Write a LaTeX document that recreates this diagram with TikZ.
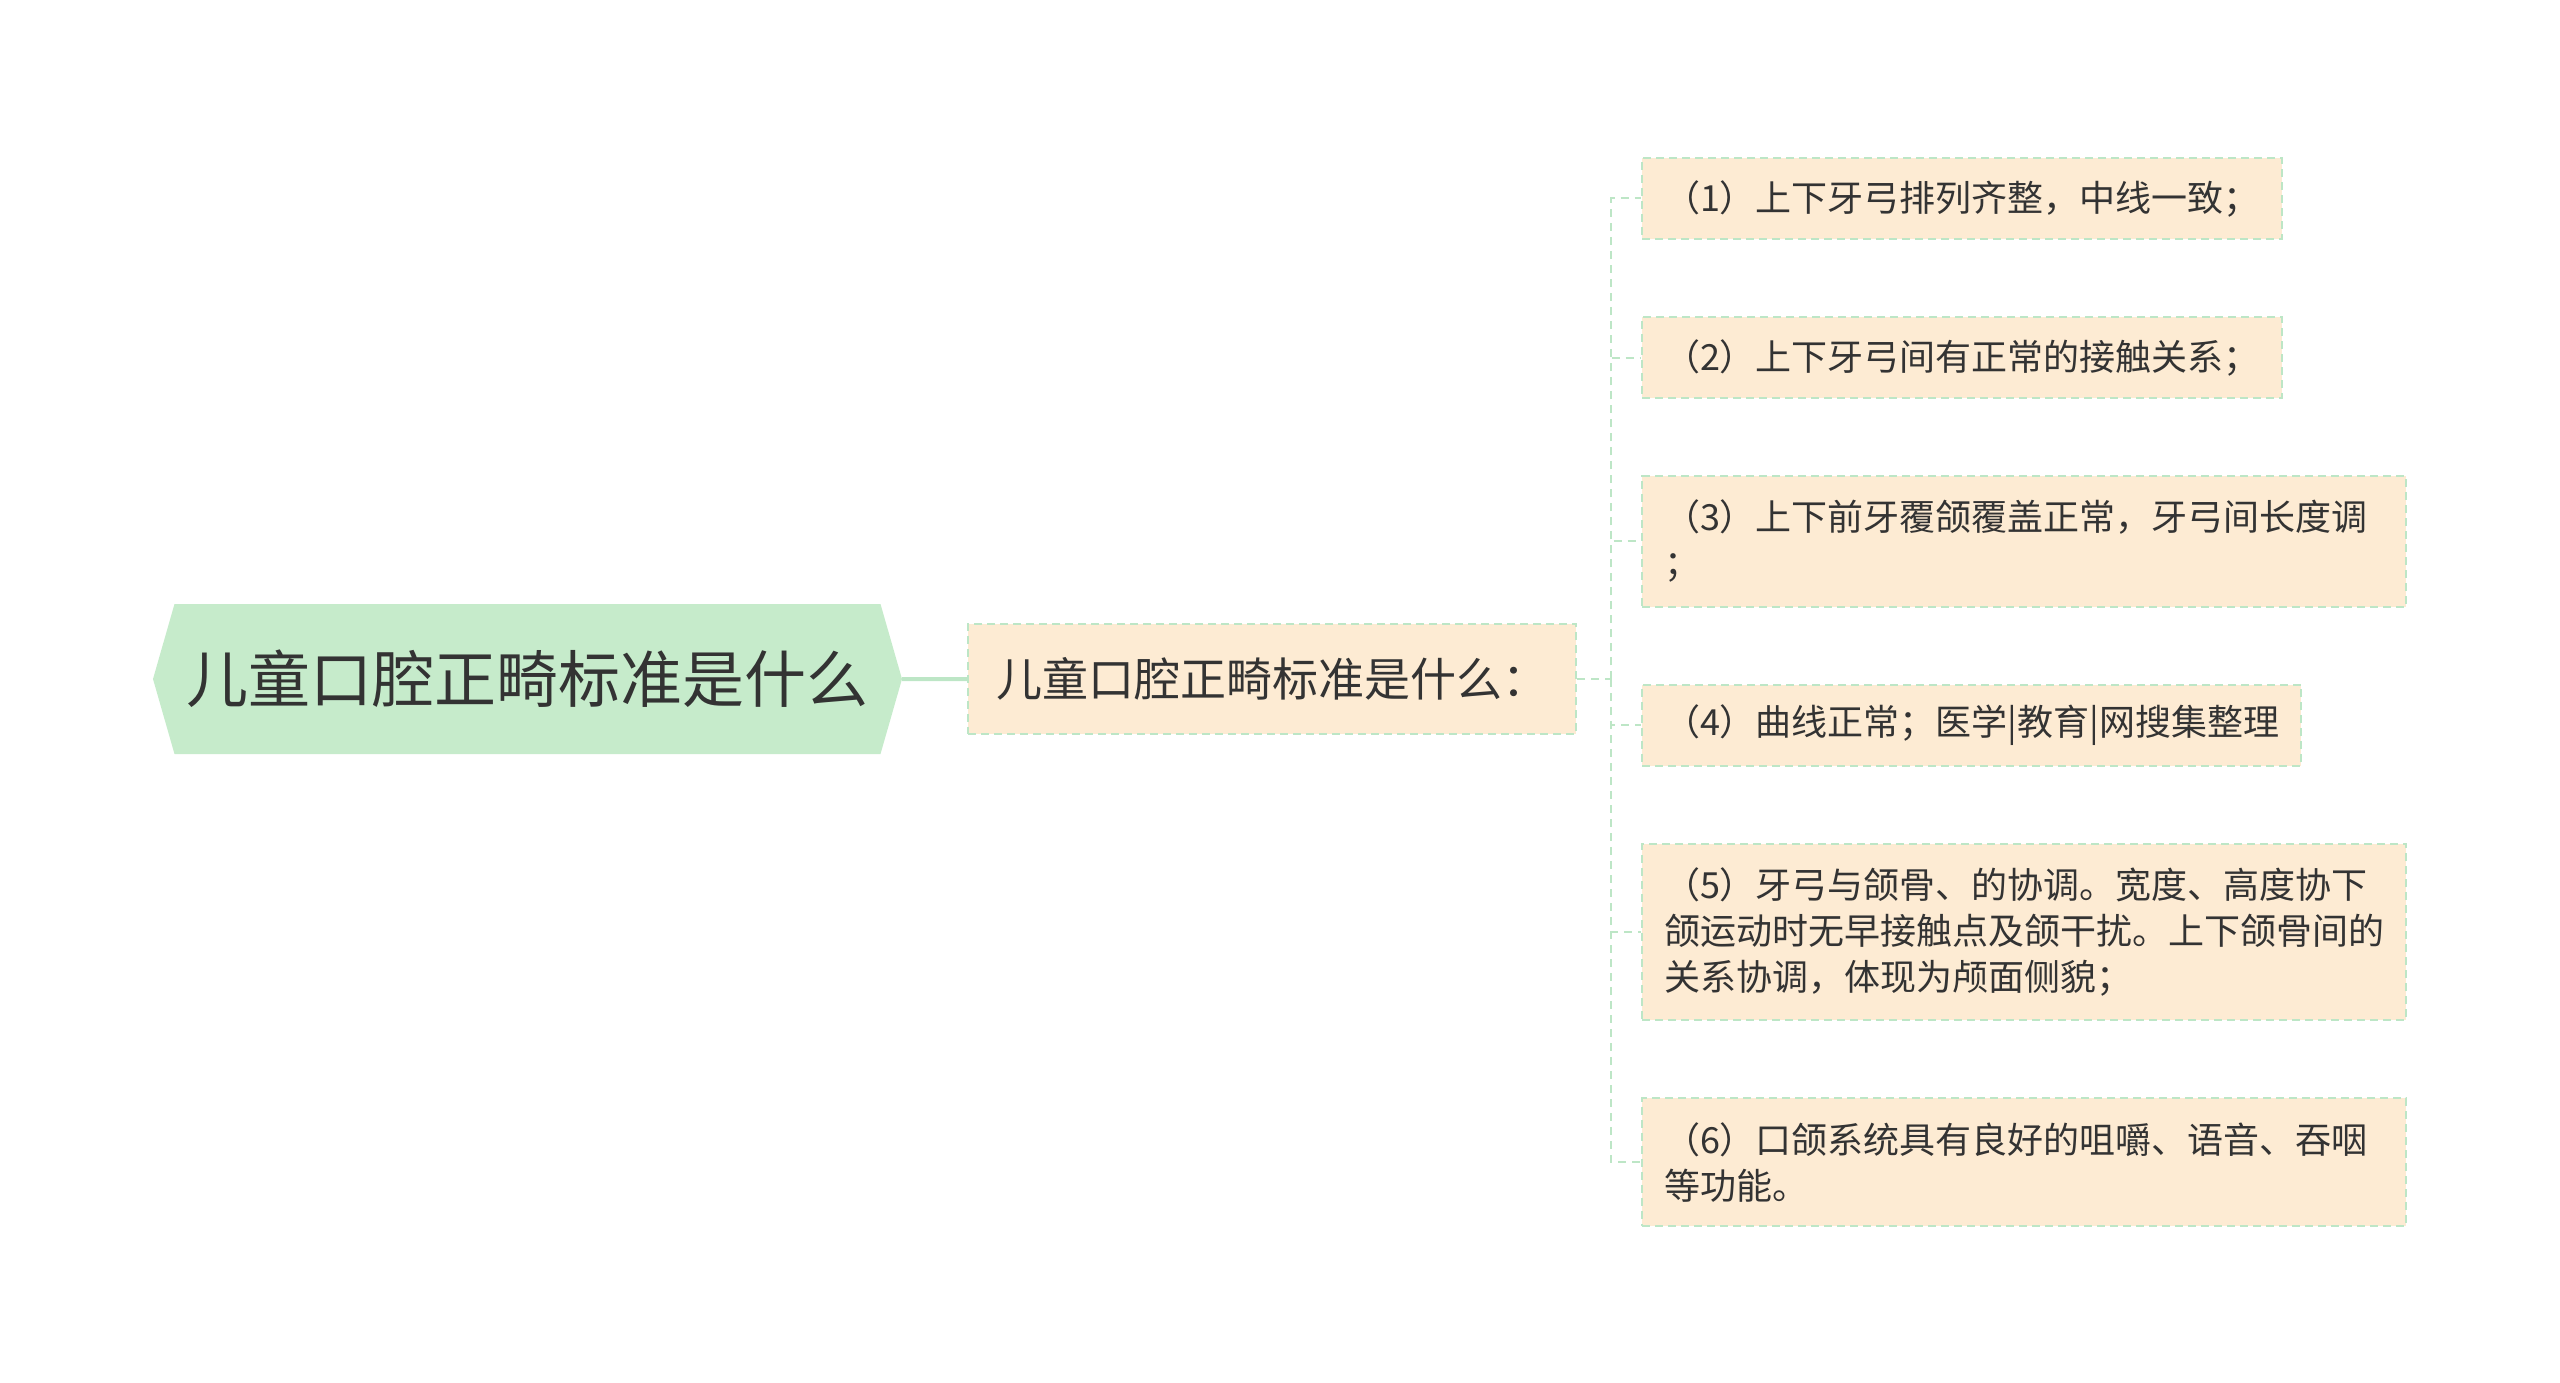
\documentclass[tikz,border=0pt]{standalone}
\usepackage{fontspec}
\newfontfamily\cjk{Noto Sans CJK SC}
\usetikzlibrary{positioning,shapes.symbols}

\definecolor{rootgreen}{HTML}{C6EBCB}
\definecolor{linegreen}{HTML}{BDE6C6}
\definecolor{cream}{HTML}{FDEBD3}
\definecolor{txtgray}{HTML}{333333}

\begin{document}
\begin{tikzpicture}[x=1pt,y=1pt,node distance=76pt,
                    every node/.style={text=txtgray}]
  \tikzset{
    root/.style={signal,signal to=east and west,signal pointer angle=148,
                 fill=rootgreen,inner xsep=12pt,minimum height=150pt,
                 font=\cjk\fontsize{62}{74}\selectfont},
    box/.style={draw=linegreen,fill=cream,line width=2pt,
                dash pattern=on 8pt off 5pt,align=left,
                inner xsep=22pt,inner ysep=20pt,minimum height=81pt,
                font=\cjk\fontsize{36}{46}\selectfont},
    mid/.style={box,inner xsep=28pt,inner ysep=34pt,
                font=\cjk\fontsize{46}{56}\selectfont},
    wide/.style={text width=720pt,inner ysep=24pt},
    link/.style={draw=linegreen,line width=4pt},
    branch/.style={draw=linegreen,line width=2pt,dash pattern=on 8pt off 6pt}
  }
  \useasboundingbox (0,0) rectangle (2560,-1383);

  \node[root]  (root) at (527.5,-679) {儿童口腔正畸标准是什么};
  \node[mid]   (sub)  [right=65pt of root] {儿童口腔正畸标准是什么：};

  \node[box,anchor=north west] (c1) at (1641,-157) {（1）上下牙弓排列齐整，中线一致；};
  \node[box] (c2) [below=of c1.south west,anchor=north west] {（2）上下牙弓间有正常的接触关系；};
  \node[box,wide] (c3) [below=of c2.south west,anchor=north west]
       {（3）上下前牙覆颌覆盖正常，牙弓间长度调\\；};
  \node[box] (c4) [below=of c3.south west,anchor=north west] {（4）曲线正常；医学|教育|网搜集整理};
  \node[box,wide] (c5) [below=of c4.south west,anchor=north west]
       {（5）牙弓与颌骨、的协调。宽度、高度协下\\颌运动时无早接触点及颌干扰。上下颌骨间的\\关系协调，体现为颅面侧貌；};
  \node[box,wide] (c6) [below=of c5.south west,anchor=north west]
       {（6）口颌系统具有良好的咀嚼、语音、吞咽\\等功能。};

  \path[link] (root) -- (sub);
  \path[branch] (sub.east) -- ++(34pt,0) coordinate (trunk);
  \foreach \c in {c1,c2,c3,c4,c5,c6}
    \path[branch] (trunk) |- (\c.west);
\end{tikzpicture}
\end{document}
